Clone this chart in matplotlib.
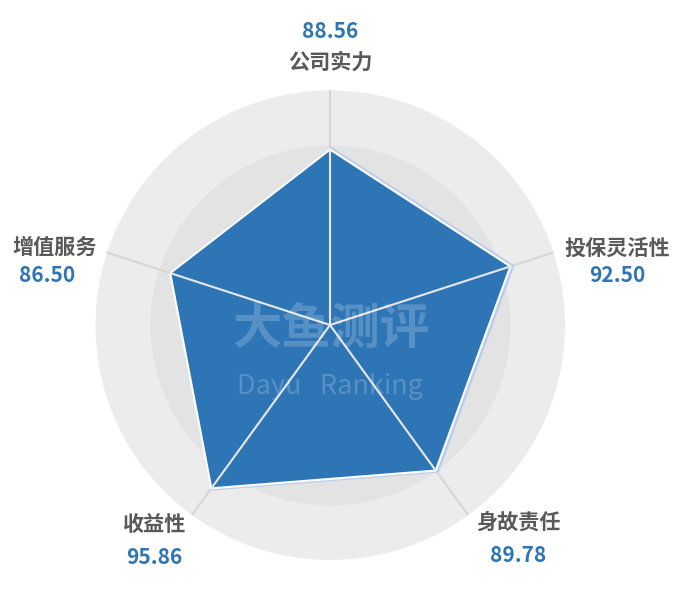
import numpy as np
import matplotlib
matplotlib.use("Agg")
from matplotlib import pyplot as plt
import matplotlib.transforms as mtransforms

plt.rcParams['font.family'] = ['Noto Sans CJK SC', 'DejaVu Sans']

categories = ["公司实力", "投保灵活性", "身故责任", "收益性", "增值服务"]
scores = [88.56, 92.50, 89.78, 95.86, 86.50]
score_labels = ["88.56", "92.50", "89.78", "95.86", "86.50"]

R_MIN = 40
R_MAX = 105
R_INNER = 89.8

W, H = 691, 590
CX, CY, RAD = 330, 325, 235


def px(x, y):
    # pixel position (from top-left) -> figure fraction
    return x / W, 1 - y / H


fig = plt.figure(figsize=(W / 100, H / 100), dpi=100)
ax = fig.add_axes([(CX - RAD) / W, (H - CY - RAD) / H, 2 * RAD / W, 2 * RAD / H],
                  projection="polar")
ax.set_theta_offset(np.pi / 2)
ax.set_theta_direction(-1)
ax.set_ylim(R_MIN, R_MAX)
ax.axis("off")

# background rings
th = np.linspace(0, 2 * np.pi, 400)
ax.fill_between(th, R_MIN, R_MAX, color="#ECECEC", lw=0, zorder=0)
ax.fill_between(th, R_MIN, R_INNER, color="#E3E3E3", lw=0, zorder=0)

angles = np.linspace(0, 2 * np.pi, len(categories), endpoint=False)

# grey spokes
for a in angles:
    ax.plot([a, a], [R_MIN, R_MAX], color="#D6D6D6", lw=1.5, zorder=1)

vals = scores + scores[:1]
angs = list(angles) + [angles[0]]

# light blue outline shadow
shadow = mtransforms.offset_copy(ax.transData, fig=fig, x=1.5, y=0, units="dots")
ax.plot(angs, vals, color="#B9CCEC", lw=3, zorder=2, transform=shadow)
ax.fill(angs, vals, color="#2E75B6", zorder=3)
ax.plot(angs, vals, color="white", lw=1.6, zorder=4)

# white spokes inside polygon
for a, v in zip(angles, scores):
    ax.plot([a, a], [R_MIN, v], color="#E8E8E8", lw=1.5, zorder=5)

# watermark
fig.text(*px(331, 329), "大鱼测评", fontsize=35.5, fontweight="bold",
         color="white", alpha=0.2, ha="center", va="center")
fig.text(*px(330, 387), "Dayu   Ranking", fontsize=19.5, fontweight="medium",
         color="white", alpha=0.2, ha="center", va="center")

name_pos = [(330, 62), (617, 248), (518, 522), (154, 524), (55, 247)]
val_pos = [(330, 32), (617, 275), (518, 556), (154, 557), (47, 276)]

for name, lab, npos, vpos in zip(categories, score_labels, name_pos, val_pos):
    fig.text(*px(*npos), name, fontsize=15.2, fontweight="bold", color="#595959",
             ha="center", va="center")
    fig.text(*px(*vpos), lab, fontsize=15, fontweight="bold", color="#2E75B6",
             ha="center", va="center")

plt.savefig("out.png", dpi=100)
